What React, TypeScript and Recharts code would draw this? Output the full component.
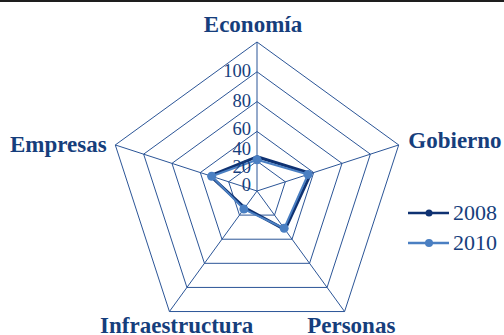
import { RadarChart, Radar, PolarGrid, PolarAngleAxis, PolarRadiusAxis, Legend } from "recharts";

const axes = ["Economía", "Gobierno", "Personas", "Infraestructura", "Empresas"];
const values2008 = [23, 38, 32, 14, 33];
const values2010 = [21, 36, 31, 15, 32];
const radiusTicks = [0, 20, 40, 60, 80, 100];

const data = axes.map((name, i) => ({ name, y2008: values2008[i], y2010: values2010[i] }));

const NAVY = "#163e7c";
const GRID = "#2b5597";
const C2008 = "#0f3272";
const C2010 = "#4a7fc2";
const SERIF = "'Liberation Serif', 'Times New Roman', serif";

// label nudges so the category names sit like in the original
const angleOffsets: Record<string, { dx: number; dy: number; anchor: string }> = {
  "Economía": { dx: -4, dy: -2, anchor: "middle" },
  "Gobierno": { dx: 2, dy: 6, anchor: "start" },
  "Personas": { dx: 2, dy: 15, anchor: "middle" },
  "Infraestructura": { dx: 12, dy: 15, anchor: "middle" },
  "Empresas": { dx: -1, dy: 10, anchor: "end" },
};

function AngleTick(props: any) {
  const { x, y, payload } = props;
  const o = angleOffsets[payload.value] || { dx: 0, dy: 0, anchor: "middle" };
  return (
    <text x={x + o.dx} y={y + o.dy} textAnchor={o.anchor} fontFamily={SERIF} fontWeight="bold" fontSize={23} fill={NAVY}>
      {payload.value}
    </text>
  );
}

// the original squeezes the radius labels toward the centre
function RadiusTick(props: any) {
  const { x, y, payload } = props;
  const v = Number(payload.value);
  const off = v <= 40 ? 0.6 * v : Math.min(35, 24 + (v - 40) * 0.45);
  return (
    <text x={x - 6} y={y + off} textAnchor="end" fontFamily={SERIF} fontSize={18.5} fill={NAVY}>
      {payload.value}
    </text>
  );
}

function LegendBox(props: any) {
  const items = props.payload || [];
  return (
    <div style={{ fontFamily: SERIF, fontSize: 22, color: NAVY }}>
      {items.map((it: any) => {
        const big = it.value === "2010";
        return (
          <div key={it.value} style={{ display: "flex", alignItems: "center", height: 30 }}>
            <svg width={46} height={30}>
              <line x1={1} y1={15} x2={42} y2={15} stroke={it.color} strokeWidth={2.5} />
              <circle cx={22} cy={15} r={big ? 4 : 3.5} fill={it.color} />
            </svg>
            <span style={{ lineHeight: "30px" }}>{it.value}</span>
          </div>
        );
      })}
    </div>
  );
}

export default function App() {
  return (
    <div style={{ position: "absolute", left: 0, top: 0, width: 504, height: 335, background: "#fff", overflow: "hidden" }}>
      <div style={{ position: "absolute", left: 0, top: 0, width: 504, height: 1.5, background: "#1e1e1e", zIndex: 2 }} />
      <RadarChart width={504} height={335} data={data} cx={257} cy={191} outerRadius={149} margin={{ top: 0, right: 0, bottom: 0, left: 0 }}>
        <PolarGrid stroke={GRID} strokeWidth={1} />
        <PolarAngleAxis dataKey="name" tick={<AngleTick />} tickLine={false} axisLine={false} />
        <Radar name="2008" dataKey="y2008" stroke={C2008} strokeWidth={3} fill="none" fillOpacity={0} dot={false} isAnimationActive={false} />
        <Radar
          name="2010"
          dataKey="y2010"
          stroke={C2010}
          strokeWidth={2}
          fill="none"
          fillOpacity={0}
          dot={{ r: 4.5, fill: C2010, stroke: C2010, strokeWidth: 0, fillOpacity: 1 }}
          isAnimationActive={false}
        />
        <PolarRadiusAxis angle={90} domain={[0, 100]} ticks={radiusTicks} tickCount={6} axisLine={false} tick={<RadiusTick />} />
        <Legend
          layout="vertical"
          align="right"
          verticalAlign="top"
          content={<LegendBox />}
          wrapperStyle={{ position: "absolute", left: 407, top: 198, width: 100 }}
        />
      </RadarChart>
    </div>
  );
}
